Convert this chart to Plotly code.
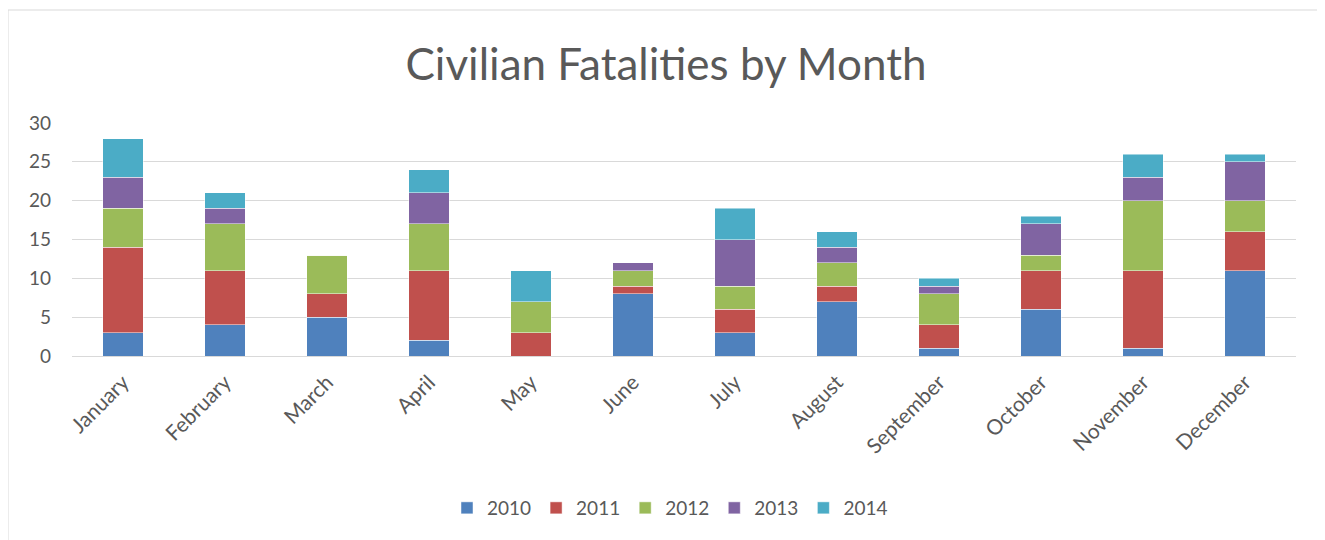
import plotly.graph_objects as go

months = ["January", "February", "March", "April", "May", "June", "July",
          "August", "September", "October", "November", "December"]
y2010 = [3, 4, 5, 2, 0, 8, 3, 7, 1, 6, 1, 11]
y2011 = [11, 7, 3, 9, 3, 1, 3, 2, 3, 5, 10, 5]
y2012 = [5, 6, 5, 6, 4, 2, 3, 3, 4, 2, 9, 4]
y2013 = [4, 2, 0, 4, 0, 1, 6, 2, 1, 4, 3, 5]
y2014 = [5, 2, 0, 3, 4, 0, 4, 2, 1, 1, 3, 1]

series = [("2010", y2010, "#4F81BD"), ("2011", y2011, "#C0504D"),
          ("2012", y2012, "#9BBB59"), ("2013", y2013, "#8064A2"),
          ("2014", y2014, "#4BACC6")]

font_family = "Lato, 'Open Sans', sans-serif"
W, H = 1317, 532
ML, MT, PW, PH = 64, 115, 1224, 233

fig = go.Figure()
for name, vals, col in series:
    fig.add_trace(go.Bar(x=months, y=vals, name=name,
                         marker=dict(color=col, line=dict(color="rgba(255,255,255,0.6)", width=0.8))))

fig.update_layout(
    barmode="stack", bargap=0.6,
    width=W, height=H,
    paper_bgcolor="white", plot_bgcolor="white",
    margin=dict(l=ML, r=W - ML - PW, t=MT, b=H - MT - PH),
    title=dict(text="Civilian Fatalities by Month", x=658 / W, xanchor="center",
               y=1 - 57 / H, yanchor="middle",
               font=dict(family=font_family, size=44, color="#595959")),
    font=dict(family=font_family, color="#595959"),
    xaxis=dict(tickangle=-45, tickfont=dict(size=21, color="#595959"),
               showgrid=False, showline=False, ticks="", ticklabelstandoff=9),
    yaxis=dict(range=[0, 30], dtick=5, tickfont=dict(size=19, color="#595959"),
               gridcolor="#d9d9d9", gridwidth=1, zeroline=True,
               zerolinecolor="#d9d9d9", zerolinewidth=1, ticks="",
               showline=False, ticklabelstandoff=20),
    legend=dict(orientation="h", x=(662 - ML) / PW, xanchor="center",
                y=(MT + PH - 500) / PH, yanchor="middle",
                font=dict(size=19, color="#595959"), itemwidth=30, traceorder="normal"),
    shapes=[dict(type="rect", xref="paper", yref="paper",
                 x0=(0 - ML) / PW, x1=(1314 - ML) / PW,
                 y0=(MT + PH - 560) / PH, y1=(MT + PH - 2) / PH,
                 line=dict(color="#d9d9d9", width=1), layer="below")],
)
fig.write_html("out.html")
